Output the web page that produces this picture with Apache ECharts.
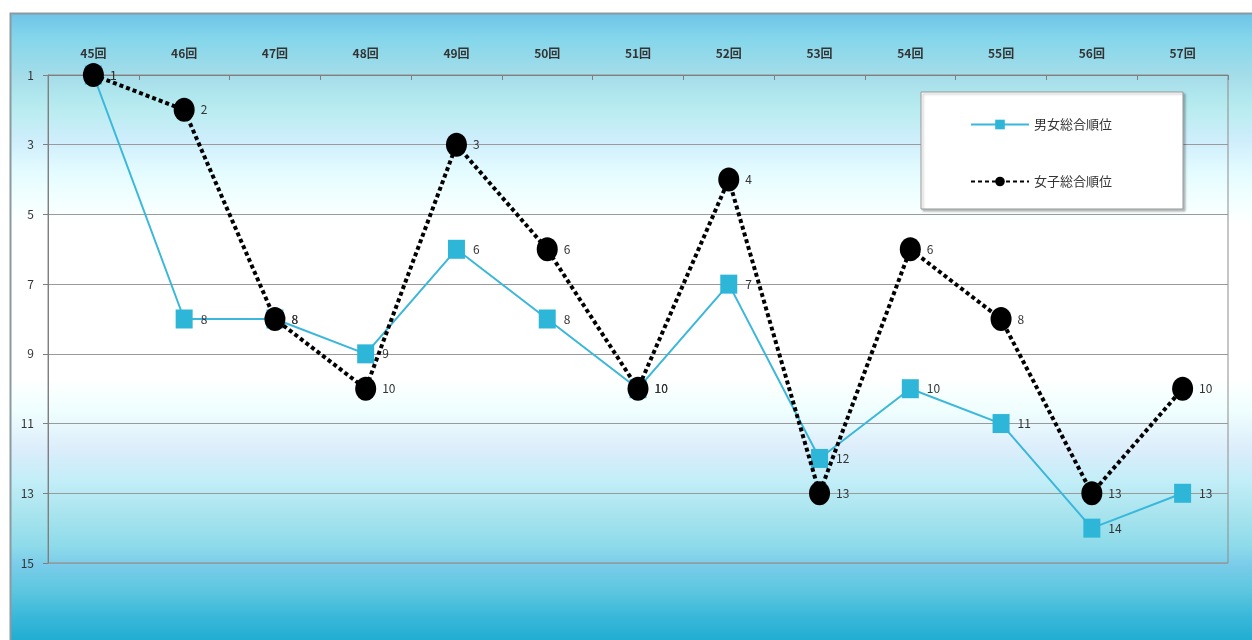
<!DOCTYPE html>
<html>
<head>
<meta charset="utf-8">
<script src="https://cdn.jsdelivr.net/npm/echarts@6/dist/echarts.min.js"></script>
<style>
  html, body { margin: 0; padding: 0; background: #ffffff; }
  #chart { width: 1252px; height: 640px; }
</style>
</head>
<body>
<div id="chart"></div>
<script>
// 大会回数
const categories = ['45回', '46回', '47回', '48回', '49回', '50回', '51回', '52回', '53回', '54回', '55回', '56回', '57回'];
// 男女総合順位
const overallRank = [1, 8, 8, 9, 6, 8, 10, 7, 12, 10, 11, 14, 13];
// 女子総合順位
const womenRank = [1, 2, 8, 10, 3, 6, 10, 4, 13, 6, 8, 13, 10];
// 縦軸の目盛
const rankTicks = [1, 3, 5, 7, 9, 11, 13, 15];

const FONT = '"Noto Sans CJK JP", "DejaVu Sans", sans-serif';
const chart = echarts.init(document.getElementById('chart'), null, { renderer: 'canvas' });

chart.setOption({
  animation: false,
  textStyle: { fontFamily: FONT },
  graphic: [{
    type: 'rect',
    z: -10,
    silent: true,
    shape: { x: 10.5, y: 13.5, width: 1250, height: 640 },
    style: {
      fill: new echarts.graphic.LinearGradient(0, 0, 0, 1, [
        { offset: 0.00, color: '#6ec3e7' },
        { offset: 0.04, color: '#84d6eb' },
        { offset: 0.10, color: '#a5dde9' },
        { offset: 0.15, color: '#b8ecf0' },
        { offset: 0.20, color: '#cfeefc' },
        { offset: 0.25, color: '#e4fcff' },
        { offset: 0.30, color: '#f5ffff' },
        { offset: 0.33, color: '#ffffff' },
        { offset: 0.57, color: '#ffffff' },
        { offset: 0.62, color: '#effefe' },
        { offset: 0.68, color: '#dcedfb' },
        { offset: 0.73, color: '#c2eef8' },
        { offset: 0.78, color: '#a9e4ee' },
        { offset: 0.83, color: '#8edbea' },
        { offset: 0.86, color: '#7accea' },
        { offset: 0.90, color: '#5dc7df' },
        { offset: 0.94, color: '#3ab8da' },
        { offset: 1.00, color: '#12a7cc' }
      ]),
      stroke: '#8a9aa0',
      lineWidth: 2
    }
  }],
  grid: {
    left: 48, right: 24, top: 75, bottom: 77,
    show: true,
    borderColor: '#8c8c8c',
    borderWidth: 1,
    backgroundColor: 'transparent'
  },
  legend: {
    orient: 'vertical',
    left: 921,
    top: 92,
    padding: [26, 71, 21, 49],
    itemGap: 44,
    itemWidth: 58,
    itemHeight: 12,
    backgroundColor: '#ffffff',
    borderColor: '#999999',
    borderWidth: 1,
    shadowColor: 'rgba(0,0,0,0.25)',
    shadowOffsetX: 2,
    shadowOffsetY: 2,
    shadowBlur: 2,
    textStyle: { fontSize: 13, color: '#333333', fontFamily: FONT },
    data: ['男女総合順位', '女子総合順位']
  },
  xAxis: {
    type: 'category',
    position: 'top',
    data: categories,
    boundaryGap: true,
    axisLine: { show: true, lineStyle: { color: '#7f7f7f', width: 1 } },
    axisTick: { show: true, inside: true, length: 5, alignWithLabel: false, lineStyle: { color: '#7f7f7f' } },
    axisLabel: { margin: 16, fontSize: 12, color: '#333333', fontWeight: 'bold', fontFamily: FONT },
    splitLine: { show: false }
  },
  yAxis: {
    type: 'value',
    inverse: true,
    min: 1,
    max: 15,
    axisLine: { show: true, lineStyle: { color: '#7f7f7f', width: 1 } },
    axisTick: { show: true, length: 5, customValues: rankTicks, lineStyle: { color: '#7f7f7f' } },
    axisLabel: { margin: 14, fontSize: 12, color: '#333333', customValues: rankTicks, fontFamily: FONT },
    splitLine: { show: true, lineStyle: { color: '#9a9a9a', width: 1 } }
  },
  series: [
    {
      name: '男女総合順位',
      type: 'line',
      data: overallRank,
      z: 2,
      symbol: 'rect',
      symbolSize: [17, 19],
      lineStyle: { color: '#3ab7da', width: 2 },
      itemStyle: { color: '#2db6d8' },
      label: { show: true, position: 'right', distance: 8, fontSize: 12, color: '#333333', fontFamily: FONT }
    },
    {
      name: '女子総合順位',
      type: 'line',
      data: womenRank,
      z: 3,
      symbol: 'circle',
      symbolSize: [21, 24],
      lineStyle: { color: '#000000', width: 4, type: [4, 3] },
      itemStyle: { color: '#000000' },
      label: { show: true, position: 'right', distance: 6, fontSize: 12, color: '#333333', fontFamily: FONT }
    }
  ]
});
</script>
</body>
</html>
